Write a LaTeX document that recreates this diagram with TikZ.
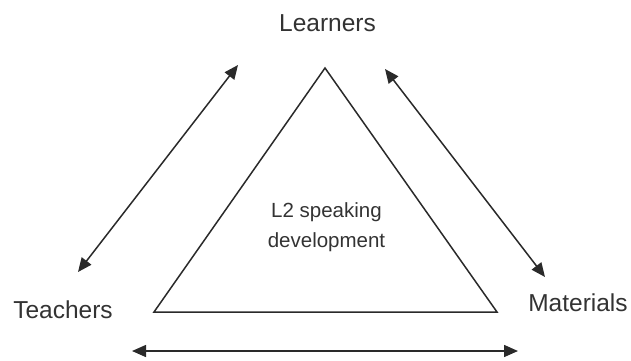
\documentclass[tikz,border=0pt]{standalone}
\usepackage{fontspec}
\setmainfont{Liberation Sans}
\usetikzlibrary{arrows.meta}
\definecolor{ink}{HTML}{2A2A2A}
\definecolor{txt}{HTML}{333333}
\begin{document}
\begin{tikzpicture}[x=1bp,y=-1bp,
  lbl/.style={inner sep=0pt,text=txt,font=\fontsize{24.5bp}{28bp}\selectfont,anchor=base},
  inner/.style={inner sep=0pt,text=txt,align=center,font=\fontsize{20.5bp}{30bp}\selectfont,anchor=base},
  tri/.style={draw=ink,line width=1.5bp,line join=miter},
  rel/.style={draw=ink,line width=1.5bp,{Triangle[length=14bp,width=12bp]}-{Triangle[length=14bp,width=12bp]},shorten <=0pt,shorten >=0pt}]
\useasboundingbox (0,0) rectangle (631,360);
\node[lbl] (learners) at (327.5,31) {Learners};
\node[lbl] (teachers) at (63,318) {Teachers};
\node[lbl] (materials) at (578,311) {Materials};
\coordinate (apex) at (325,68);
\coordinate (bl) at (154,312);
\coordinate (br) at (497,312);
\draw[tri] (apex) -- (bl) -- (br) -- cycle;
\node[inner] (dev) at (326.5,247) {L2 speaking\\development};
\coordinate (la) at (78,272);
\coordinate (lb) at (238,65);
\coordinate (ra) at (385,69);
\coordinate (rb) at (545,277);
\coordinate (ba) at (132,351);
\coordinate (bb) at (518,351);
\draw[rel] (la) -- (lb);
\draw[rel] (ra) -- (rb);
\draw[rel] (ba) -- (bb);
\end{tikzpicture}
\end{document}
